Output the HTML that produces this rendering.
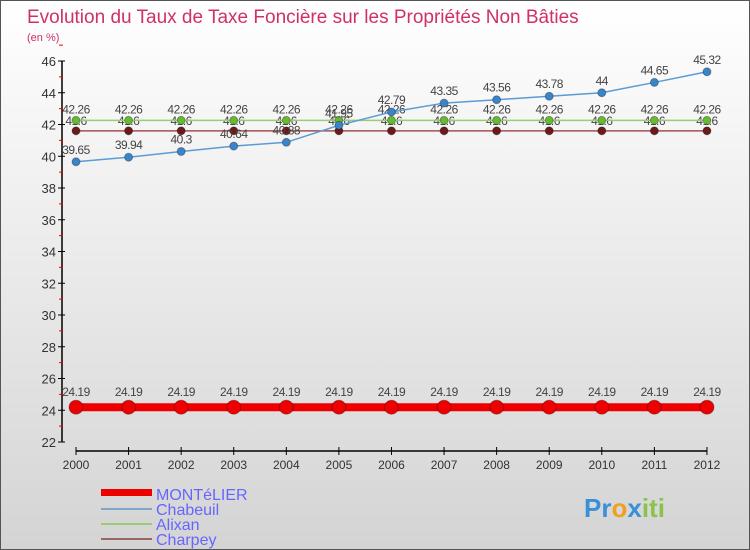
<!DOCTYPE html>
<html><head><meta charset="utf-8"><style>
body{margin:0}
#c{width:750px;height:550px;position:relative;background:linear-gradient(#ffffff,#d4d4d4);border:1px solid #555;box-sizing:border-box;font-family:"Liberation Sans",sans-serif;overflow:hidden}
text{font-family:"Liberation Sans",sans-serif}
</style></head><body>
<div id="c">
<svg id="s" width="750" height="550">
<text x="26" y="22" font-size="19" fill="#d0306a">Evolution du Taux de Taxe Foncière sur les Propriétés Non Bâties</text>
<text x="26" y="40" font-size="11" fill="#d0306a">(en %)</text>
<g id="g"></g>
<g>
<rect x="100" y="488" width="51" height="7" fill="#e00"/>
<text x="155" y="499" font-size="16" fill="#6666ff">MONTéLIER</text>
<rect x="100" y="507" width="51" height="2" fill="#7fa8cc"/>
<text x="155" y="514" font-size="16" fill="#6666ff">Chabeuil</text>
<rect x="100" y="522" width="51" height="2" fill="#99cc77"/>
<text x="155" y="529" font-size="16" fill="#6666ff">Alixan</text>
<rect x="100" y="537" width="51" height="2" fill="#996666"/>
<text x="155" y="544" font-size="16" fill="#6666ff">Charpey</text>
</g>
<text x="583" y="516" font-size="26" font-weight="bold"><tspan fill="#3a8fd8">Pr</tspan><tspan fill="#f0a020">o</tspan><tspan fill="#3a8fd8">x</tspan><tspan fill="#8bc34a">iti</tspan></text>
</svg></div>
<script>
const years=[2000,2001,2002,2003,2004,2005,2006,2007,2008,2009,2010,2011,2012];
const montelier=[24.19,24.19,24.19,24.19,24.19,24.19,24.19,24.19,24.19,24.19,24.19,24.19,24.19];
const chabeuil=[39.65,39.94,40.3,40.64,40.88,41.95,42.79,43.35,43.56,43.78,44,44.65,45.32];
const alixan=[42.26,42.26,42.26,42.26,42.26,42.26,42.26,42.26,42.26,42.26,42.26,42.26,42.26];
const charpey=[41.6,41.6,41.6,41.6,41.6,41.6,41.6,41.6,41.6,41.6,41.6,41.6,41.6];
const yTicks=[22,24,26,28,30,32,34,36,38,40,42,44,46];
const NS="http://www.w3.org/2000/svg",g=document.getElementById('g');
const X=i=>75+i*52.58, Y=v=>441-(v-22)*(381/24);
function el(t,a,p){const e=document.createElementNS(NS,t);for(const k in a)e.setAttribute(k,a[k]);(p||g).appendChild(e);return e;}
const ax=el('path',{d:'M61,60V441M75,450H706',stroke:'#000','stroke-width':1.5,fill:'none'});


yTicks.forEach(v=>{
 const t=el('line',{x1:57,x2:64,y1:Y(v),y2:Y(v),stroke:'#000'});
 
 
 const r=el('line',{x1:58,x2:62,y1:Y(v+1),y2:Y(v+1),stroke:'#e00'});
 
 
 const l=el('text',{x:55,y:Y(v)+5,'font-size':13,'text-anchor':'end',fill:'#333'});l.textContent=v;
 
 
});
years.forEach((y,i)=>{
 const t=el('line',{x1:X(i),x2:X(i),y1:446,y2:454,stroke:'#000'});
 
 
 const l=el('text',{x:X(i),y:468,'font-size':12,'text-anchor':'middle',fill:'#333'});l.textContent=y;
 
 
});
function series(vals,name,col,dot,w,r,dy){
 const p=el('polyline',{points:vals.map((v,i)=>X(i)+','+Y(v)).join(' '),stroke:col,'stroke-width':w,fill:'none'});
 
 
 vals.forEach((v,i)=>{
  const c=el('circle',{cx:X(i),cy:Y(v),r:r,fill:dot,stroke:'rgba(0,0,0,0.3)'});
  
  
  const l=el('text',{x:X(i),y:Y(v)+dy,'font-size':12,'text-anchor':'middle',fill:'#444','letter-spacing':'-0.5'});l.textContent=v;
  
  
 });
}
series(charpey,'charpey','#a05050','#6a1a1a',1.5,4,-6);
series(alixan,'alixan','#99cc77','#66bb33',1.5,4,-7);
series(chabeuil,'chabeuil','#5b9bd5','#3a85c8',1.5,4,-8);
series(montelier,'montelier','#e00','#e00',8,7,-11);
</script>
</body></html>
